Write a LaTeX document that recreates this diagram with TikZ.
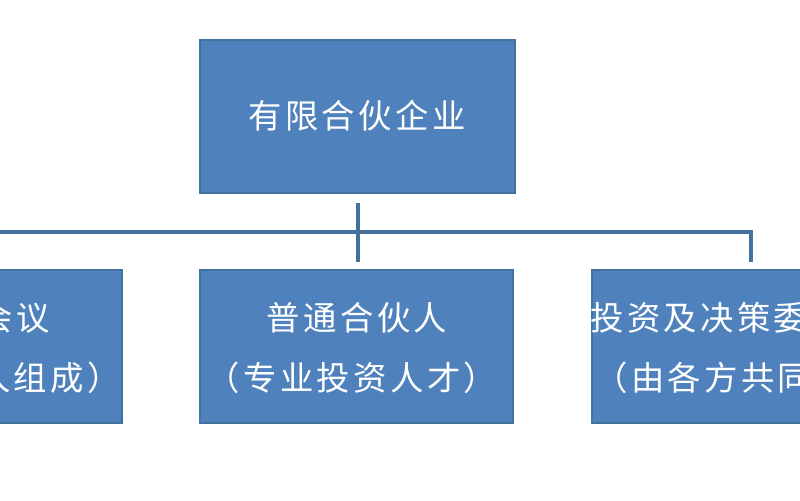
\documentclass[tikz,border=0pt]{standalone}
\usepackage{fontspec}
\setmainfont{Noto Sans CJK SC}
\definecolor{boxblue}{HTML}{4F81BD}
\definecolor{edgeblue}{HTML}{41719C}
\tikzset{
  orgbox/.style={draw=edgeblue, fill=boxblue, line width=0.8pt},
  orglabel/.style={text=white, font=\fontsize{19}{22}\selectfont\addfontfeature{LetterSpace=10}, inner sep=0},
  link/.style={draw=edgeblue, line width=0.08cm}
}
\begin{document}
\begin{tikzpicture}[x=0.02cm, y=-0.02cm]
      \useasboundingbox (0,0) rectangle (800,500);
      \clip (0,0) rectangle (800,500);
      \fill[white] (0,0) rectangle (800,500);
      % boxes
      \draw[orgbox] (200,40) rectangle (515,193);
      \draw[orgbox] (-20,270) rectangle (122,423);
      \draw[orgbox] (200,270) rectangle (513,423);
      \draw[orgbox] (592,270) rectangle (830,423);
      % labels
      \node[orglabel] (Top) at (357,116) {有限合伙企业};
      \node[orglabel, anchor=east] (L1) at (50,318) {会议};
      \node[orglabel, anchor=east] (L2) at (121,378) {人组成）};
      \node[orglabel] (M1) at (357,318) {普通合伙人};
      \node[orglabel] (M2) at (352,378) {（专业投资人才）};
      \node[orglabel, anchor=west] (R1) at (590,318) {投资及决策委};
      \node[orglabel, anchor=west] (R2) at (594,378) {（由各方共同};
      % connectors
      \coordinate (Jl) at (-5,232);
      \coordinate (Jr) at (751,232);
      \draw[link] (358,203) -- (358,262);
      \draw[link] (Jl) -- (Jr) -- (751,262);
\end{tikzpicture}
\end{document}
